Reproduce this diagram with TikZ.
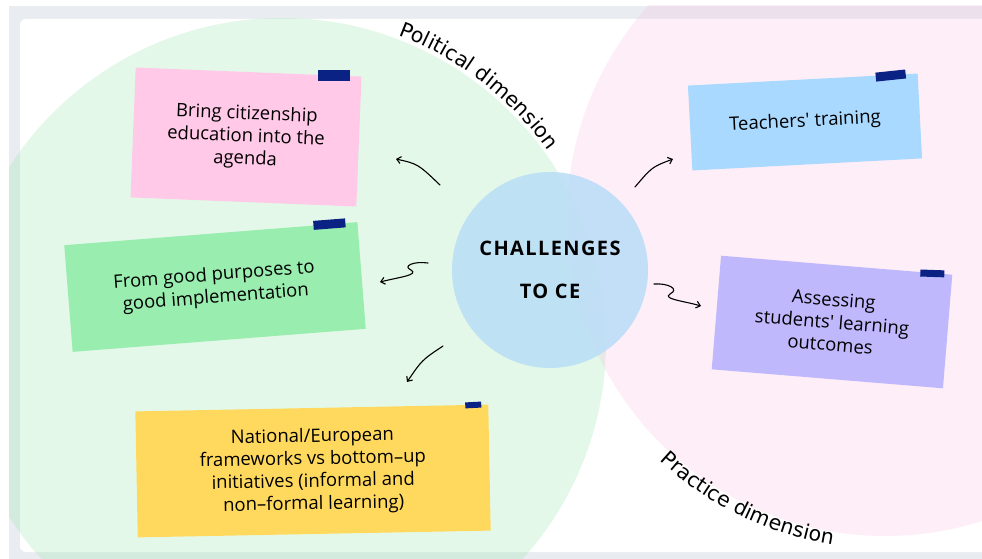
\documentclass[tikz,border=0pt]{standalone}
\usepackage{fontspec}
\setmainfont{Open Sans}
\newfontfamily\cardfont{Open Sans}[Ligatures=TeXOff]
\newfontfamily\dimfont{DejaVu Sans}
\usetikzlibrary{arrows.meta,calc,decorations.text}
\definecolor{bandgray}{HTML}{E9EDF1}
\definecolor{greenc}{HTML}{9BE8B0}
\definecolor{pinkc}{HTML}{FBB6DE}
\definecolor{bluec}{HTML}{B9DDF7}
\definecolor{cpink}{HTML}{FFC9E7}
\definecolor{cgreen}{HTML}{98EDAF}
\definecolor{cyellow}{HTML}{FFD95E}
\definecolor{cblue}{HTML}{A9D9FF}
\definecolor{cpurple}{HTML}{C0B8FD}
\definecolor{navy}{HTML}{0B2285}
\tikzset{
  card/.style={inner sep=6pt, align=center, text=black,
    font=\cardfont\fontsize{18.5}{22.5}\selectfont},
  tape/.style={fill=navy, inner sep=0pt, anchor=east},
  conn/.style={draw=black, line width=1.1pt, line cap=round,
    -{Straight Barb[length=4pt,width=7pt]}},
}
\begin{document}
\begin{tikzpicture}[x=1pt,y=-1pt]
\useasboundingbox (0,0) rectangle (982,559);
\fill[white] (0,0) rectangle (982,559);
\fill[bandgray] (9,6) rectangle (982,559);
\fill[white, rounded corners=6pt] (20,19) rectangle (1000,552);
\begin{scope}
  \clip (9,6) rectangle (982,559);
  \fill[greenc, opacity=0.28] (282,342) circle[radius=324];
  \fill[pinkc, opacity=0.22] (885,218) circle[radius=318];
\end{scope}

% dimension labels
\path[decorate, decoration={text along path, text align=center,
  text={|\dimfont\fontsize{20.5}{20.5}\selectfont|Political dimension}}]
  (282,342) ++(-78:328) arc[start angle=-78, end angle=-27, radius=328];
\path[decorate, decoration={text along path, text align=center,
  text={|\dimfont\fontsize{20.5}{20.5}\selectfont|Practice dimension}}]
  (885,218) ++(142:331) arc[start angle=142, end angle=90, radius=331];

% centre
\node[circle, fill=bluec, fill opacity=0.85, text opacity=1, minimum size=196pt,
  inner sep=0pt, align=center,
  font=\cardfont\bfseries\addfontfeatures{LetterSpace=7}\fontsize{20}{43}\selectfont]
  (ce) at (550,270) {CHALLENGES\\TO CE};

% cards
\node[card, fill=cpink, minimum width=226pt, minimum height=130pt, rotate=-2.3]
  (c1) at (246,137) {Bring citizenship\\education into the\\agenda};
\node[card, fill=cgreen, minimum width=294pt, minimum height=107pt, rotate=4.5]
  (c2) at (215,287) {From good purposes to\\good implementation};
\node[card, fill=cyellow, minimum width=353pt, minimum height=126pt, rotate=1.1]
  (c3) at (313,471) {National/European\\frameworks vs bottom–up\\initiatives (informal and\\non–formal learning)};
\node[card, fill=cblue, minimum width=230pt, minimum height=85pt, rotate=3]
  (c4) at (805,122) {Teachers' training};
\node[card, fill=cpurple, minimum width=232pt, minimum height=114pt, rotate=-4.7]
  (c5) at (832,322) {Assessing\\students' learning\\outcomes};

% tapes
\node[tape, minimum width=32pt, minimum height=11pt, rotate=0]
  (t1) at ($(c1.north east)!12pt!(c1.north west)$) {};
\node[tape, minimum width=32pt, minimum height=9pt, rotate=4.5]
  (t2) at ($(c2.north east)!12pt!(c2.north west)$) {};
\node[tape, minimum width=16pt, minimum height=6pt, rotate=3]
  (t3) at ($(c3.north east)!7pt!(c3.north west)$) {};
\node[tape, minimum width=30pt, minimum height=9pt, rotate=6]
  (t4) at ($(c4.north east)!12pt!(c4.north west)$) {};
\node[tape, minimum width=24pt, minimum height=7pt, rotate=-2]
  (t5) at ($(c5.north east)!8pt!(c5.north west)$) {};

% arrows
\coordinate (a1s) at (440,185); \coordinate (a1e) at (396,159);
\coordinate (a2s) at (428,263); \coordinate (a2e) at (380,282);
\coordinate (a3s) at (443,346); \coordinate (a3e) at (407,382);
\coordinate (a4s) at (635,187); \coordinate (a4e) at (673,159);
\coordinate (a5s) at (654,284); \coordinate (a5e) at (701,306);
\draw[conn] (a1s) .. controls (418,164) .. (a1e);
\draw[conn] (a2s) .. controls (414,261) and (402,266) .. (411,270)
  .. controls (419,275) and (400,277) .. (a2e);
\draw[conn] (a3s) .. controls (422,360) .. (a3e);
\draw[conn] (a4s) .. controls (652,167) .. (a4e);
\draw[conn] (a5s) .. controls (668,283) and (680,289) .. (670,294)
  .. controls (662,299) and (684,301) .. (a5e);
\end{tikzpicture}
\end{document}
